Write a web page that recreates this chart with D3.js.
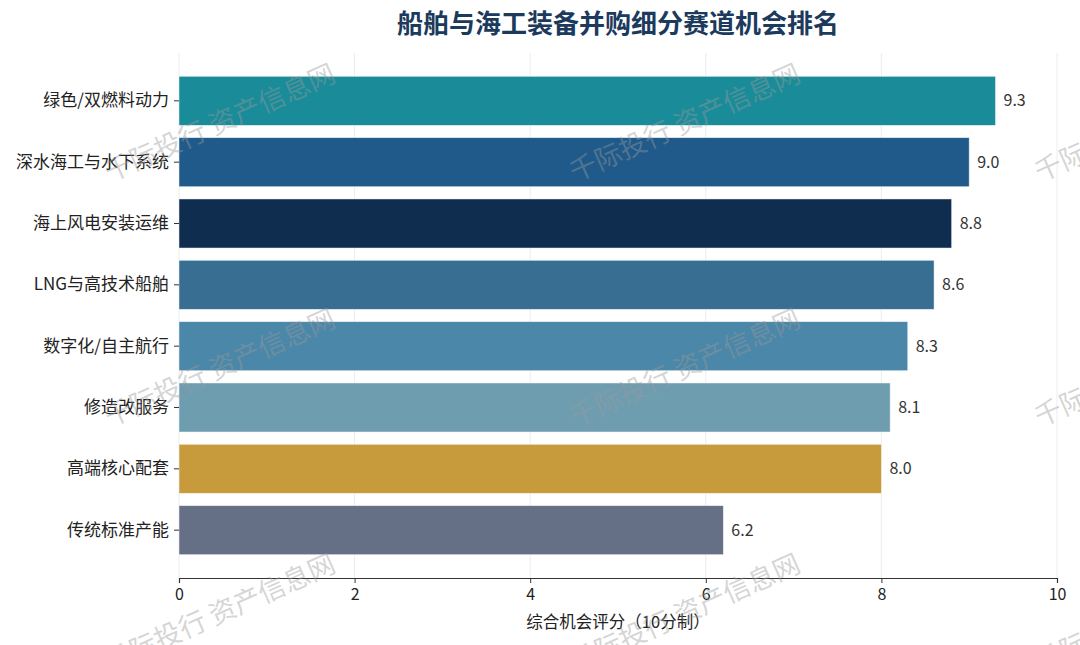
<!DOCTYPE html>
<html>
<head>
<meta charset="utf-8">
<script src="https://d3js.org/d3.v7.min.js"></script>
<style>
  body { margin: 0; background: #fff; }
  svg { font-family: "Noto Sans CJK SC", "Noto Sans", sans-serif; }
</style>
</head>
<body>
<div id="chart"></div>
<script>
// data
var categories = ["绿色/双燃料动力", "深水海工与水下系统", "海上风电安装运维", "LNG与高技术船舶",
                  "数字化/自主航行", "修造改服务", "高端核心配套", "传统标准产能"];
var scores = [9.3, 9.0, 8.8, 8.6, 8.3, 8.1, 8.0, 6.2];
var barColors = ["#1a8b99", "#1f5a8a", "#0e2d4f", "#376e92", "#4b87a8", "#6f9db0", "#c79a3b", "#657086"];
var xTicks = [0, 2, 4, 6, 8, 10];

var W = 1080, H = 645;
var margin = {top: 53, right: 23, bottom: 67, left: 179},
    width = W - margin.left - margin.right,
    height = H - margin.top - margin.bottom;

var svg = d3.select("#chart").append("svg")
    .attr("width", W)
    .attr("height", H);

var g = svg.append("g")
    .attr("transform", "translate(" + margin.left + "," + margin.top + ")");

var x = d3.scaleLinear().domain([0, 10]).range([0, width]);
var y = d3.scaleBand().domain(categories).range([0, height])
    .paddingInner(0.2).paddingOuter(0.38);

// title
svg.append("text")
    .attr("x", margin.left + width / 2)
    .attr("y", 33)
    .attr("text-anchor", "middle")
    .style("font-size", "26px")
    .style("font-weight", "bold")
    .style("fill", "#1b3a5c")
    .text("船舶与海工装备并购细分赛道机会排名");

// grid
g.selectAll(".grid").data(xTicks).enter().append("line")
    .attr("x1", function(d) { return x(d); })
    .attr("x2", function(d) { return x(d); })
    .attr("y1", 0)
    .attr("y2", height)
    .attr("stroke", "#e9edf0")
    .attr("stroke-width", 1);

// bars
g.selectAll(".bar").data(categories).enter().append("rect")
    .attr("x", x(0))
    .attr("y", function(d) { return y(d); })
    .attr("width", function(d, i) { return x(scores[i]) - x(0); })
    .attr("height", y.bandwidth())
    .attr("fill", function(d, i) { return barColors[i]; })
    .attr("stroke", "#ffffff")
    .attr("stroke-opacity", 0.6)
    .attr("stroke-width", 0.8);

// value labels
g.selectAll(".val").data(categories).enter().append("text")
    .attr("x", function(d, i) { return x(scores[i]) + 8; })
    .attr("y", function(d) { return y(d) + y.bandwidth() / 2; })
    .attr("dy", "0.35em")
    .style("font-size", "16px")
    .style("fill", "#333")
    .text(function(d, i) { return scores[i].toFixed(1); });

// x axis
var xAxis = g.append("g")
    .attr("transform", "translate(0," + height + ")")
    .call(d3.axisBottom(x).tickValues(xTicks).tickSize(5).tickPadding(6));
xAxis.select(".domain").attr("stroke", "#333").attr("stroke-width", 1.2);
xAxis.selectAll(".tick line").attr("stroke", "#333");
xAxis.selectAll("text").style("font-size", "16px").style("fill", "#222")
    .style("font-family", "'Noto Sans CJK SC', sans-serif");

// y axis
var yAxis = g.append("g")
    .call(d3.axisLeft(y).tickSize(5).tickPadding(5));
yAxis.select(".domain").remove();
yAxis.selectAll(".tick line").attr("stroke", "#333");
yAxis.selectAll("text").style("font-size", "17px").style("fill", "#222")
    .style("font-family", "'Noto Sans CJK SC', sans-serif");

// x axis title
svg.append("text")
    .attr("x", margin.left + width / 2)
    .attr("y", 628)
    .attr("text-anchor", "middle")
    .style("font-size", "16.5px")
    .style("fill", "#222")
    .text("综合机会评分（10分制）");

// watermark
var wmCols = [110, 575, 1040], wmRows = [182, 427, 672];
var wm = svg.append("g").attr("pointer-events", "none");
wmRows.forEach(function(ry) {
  wmCols.forEach(function(cx) {
    wm.append("text")
      .attr("transform", "translate(" + cx + "," + ry + ") rotate(-24)")
      .style("font-size", "27px")
      .style("fill", "#9a9a9a")
      .style("fill-opacity", 0.42)
      .text("千际投行 资产信息网");
  });
});
</script>
</body>
</html>
